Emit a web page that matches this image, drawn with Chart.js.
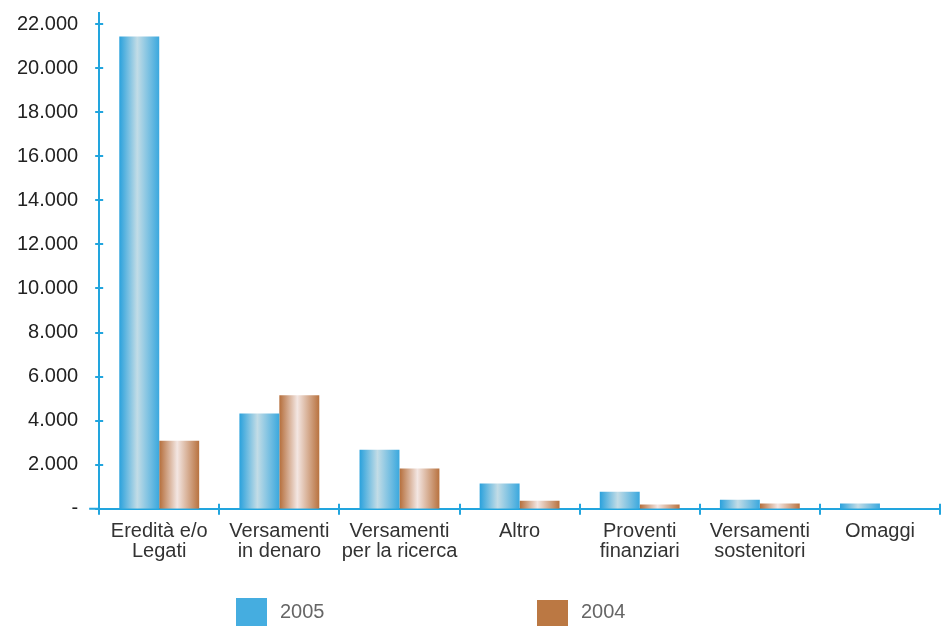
<!DOCTYPE html>
<html>
<head>
<meta charset="utf-8">
<script src="https://cdn.jsdelivr.net/npm/chart.js@4/dist/chart.umd.min.js"></script>
<style>
  html, body { margin: 0; padding: 0; background: #ffffff; }
  #wrap { width: 942px; height: 626px; }
</style>
</head>
<body>
<div id="wrap"><canvas id="c" width="942" height="626"></canvas></div>
<script>
// Fonti di entrata, confronto 2005 / 2004 (migliaia di euro)
const categories = [
  ['Eredità e/o', 'Legati'],
  ['Versamenti', 'in denaro'],
  ['Versamenti', 'per la ricerca'],
  'Altro',
  ['Proventi', 'finanziari'],
  ['Versamenti', 'sostenitori'],
  'Omaggi'
];
const seriesNames = ['2005', '2004'];
const values2005 = [21430, 4330, 2680, 1150, 770, 410, 240];
const values2004 = [3090, 5150, 1830, 360, 200, 240, 0];
const yTickValues = [0, 2000, 4000, 6000, 8000, 10000, 12000, 14000, 16000, 18000, 20000, 22000];

const AXIS = '#22a5de';
const CAT_PCT = 0.665;
const FONT = '"Liberation Sans", Arial, Helvetica, sans-serif';

const palettes = [
  { edge: '#2aa1dc', mid: '#c2dce6', edgeR: '#3aa8de', solid: '#45ade0' },
  { edge: '#b56e3b', mid: '#f3e6e2', edgeR: '#b8723f', solid: '#bb7843' }
];

function barFill(ctx) {
  const pal = palettes[ctx.datasetIndex];
  const xs = ctx.chart.scales && ctx.chart.scales.x;
  if (ctx.type !== 'data' || !xs || !isFinite(xs.left)) return pal.solid;
  const catW = (xs.right - xs.left) / categories.length;
  const bw = catW * CAT_PCT / 2;
  const center = xs.getPixelForValue(ctx.dataIndex);
  const x0 = center + (ctx.datasetIndex === 0 ? -bw : 0);
  const g = ctx.chart.ctx.createLinearGradient(x0, 0, x0 + bw, 0);
  g.addColorStop(0, pal.edge);
  g.addColorStop(0.45, pal.mid);
  g.addColorStop(1, pal.edgeR);
  return g;
}

function fmt(v) {
  if (v === 0) return '-';
  return String(v).replace(/\B(?=(\d{3})+(?!\d))/g, '.');
}

// cross-shaped tick marks on both axes, plus the small axis overhang
const axisMarks = {
  id: 'axisMarks',
  afterDraw(chart) {
    const { ctx, scales: { x, y } } = chart;
    ctx.save();
    ctx.strokeStyle = AXIS;
    ctx.lineWidth = 2;
    ctx.beginPath();
    yTickValues.forEach(v => {
      const py = Math.round(y.getPixelForValue(v));
      ctx.moveTo(x.left - 4, py);
      ctx.lineTo(x.left + 4, py);
    });
    const catW = (x.right - x.left) / categories.length;
    for (let k = 0; k <= categories.length; k++) {
      const px = Math.round(x.left + k * catW);
      ctx.moveTo(px, y.bottom + 6);
      ctx.lineTo(px, y.bottom - 5);
    }
    ctx.moveTo(x.left - 10, y.bottom);
    ctx.lineTo(x.left, y.bottom);
    ctx.stroke();
    ctx.restore();
  }
};

// legend row under the chart
const bottomLegend = {
  id: 'bottomLegend',
  afterDraw(chart) {
    const { ctx } = chart;
    const slots = [236, 537];
    ctx.save();
    ctx.font = '20px ' + FONT;
    ctx.textBaseline = 'middle';
    ctx.textAlign = 'left';
    chart.data.datasets.forEach((ds, i) => {
      const bx = slots[i];
      const by = i === 0 ? 598 : 600;
      ctx.fillStyle = palettes[i].solid;
      ctx.fillRect(bx, by, 31, 30);
      ctx.fillStyle = '#666666';
      ctx.fillText(ds.label, bx + 44, 612);
    });
    ctx.restore();
  }
};

new Chart(document.getElementById('c'), {
  type: 'bar',
  data: {
    labels: categories,
    datasets: [
      { label: seriesNames[0], data: values2005, backgroundColor: barFill, borderWidth: 0 },
      { label: seriesNames[1], data: values2004, backgroundColor: barFill, borderWidth: 0 }
    ]
  },
  options: {
    responsive: false,
    animation: false,
    devicePixelRatio: 1,
    layout: { padding: { left: 17, right: 2, top: 13, bottom: 58 } },
    datasets: { bar: { categoryPercentage: CAT_PCT, barPercentage: 1.0 } },
    plugins: {
      legend: { display: false },
      tooltip: { enabled: false }
    },
    scales: {
      x: {
        offset: true,
        grid: { display: false, drawTicks: true, offset: true, tickLength: 6 },
        border: { display: true, color: AXIS, width: 2 },
        ticks: {
          color: '#333333',
          padding: 7,
          maxRotation: 0,
          autoSkip: false,
          font: { family: FONT, size: 20, lineHeight: 0.98 }
        }
      },
      y: {
        min: 0,
        max: 22500,
        afterBuildTicks(scale) {
          scale.ticks = yTickValues.map(v => ({ value: v }));
        },
        grid: { display: false, drawTicks: true, tickLength: 21 },
        border: { display: true, color: AXIS, width: 2 },
        ticks: {
          color: '#222222',
          padding: 0,
          font: { family: FONT, size: 20, lineHeight: 0.5 },
          callback: v => fmt(v)
        }
      }
    }
  },
  plugins: [axisMarks, bottomLegend]
});
</script>
</body>
</html>
